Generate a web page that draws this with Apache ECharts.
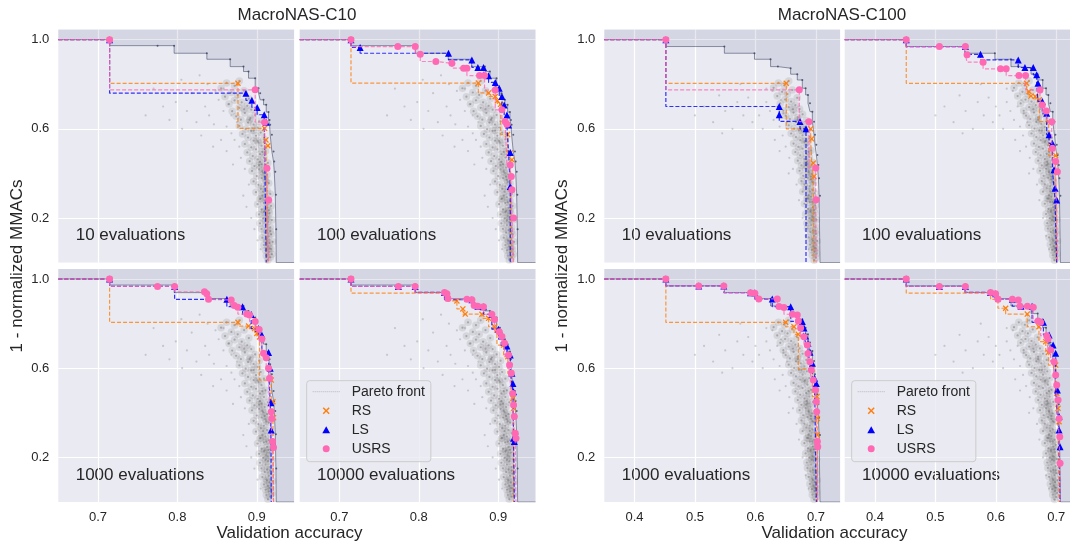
<!DOCTYPE html>
<html>
<head>
<meta charset="utf-8">
<title>MacroNAS Pareto fronts</title>
<script src="https://cdn.jsdelivr.net/npm/echarts@6.0.0/dist/echarts.min.js"></script>
<style>
  html, body { margin: 0; padding: 0; background: #ffffff; }
  #chart { width: 1070px; height: 545px; }
</style>
</head>
<body>
<div id="chart"></div>
<script>
// ---------- axis ranges and tick labels ----------
const c10XRange = [0.65, 0.947];
const c100XRange = [0.35, 0.74];
const yRange = [0, 1.045];
const c10XTicks = [0.7, 0.8, 0.9];
const c100XTicks = [0.4, 0.5, 0.6, 0.7];
const yTicks = [0.2, 0.6, 1.0];
const evalLabels = ['10 evaluations', '100 evaluations', '1000 evaluations', '10000 evaluations'];
const datasetTitles = ['MacroNAS-C10', 'MacroNAS-C100'];

// ---------- true Pareto fronts [accuracy, 1 - normalized MMACs] ----------
const c10Front = [[0.7146,1.000],[0.7750,0.973],[0.7959,0.973],[0.8371,0.939],[0.8665,0.912],[0.8833,0.879],[0.8896,0.857],[0.8980,0.827],[0.9022,0.782],[0.9043,0.760],[0.9085,0.730],[0.9119,0.708],[0.9148,0.675],[0.9161,0.640],[0.9169,0.618],[0.9190,0.573],[0.9211,0.498],[0.9220,0.453],[0.9233,0.408],[0.9241,0.304],[0.9245,0.150]];
const c100Front = [[0.4518,1.000],[0.5486,0.969],[0.5984,0.939],[0.6250,0.912],[0.6371,0.879],[0.6582,0.872],[0.6692,0.845],[0.6775,0.819],[0.6830,0.782],[0.6869,0.752],[0.6902,0.715],[0.6941,0.677],[0.6969,0.632],[0.6985,0.573],[0.7007,0.528],[0.7024,0.483],[0.7041,0.438],[0.7052,0.378],[0.7068,0.300]];

// ---------- all evaluated architectures (flat acc, value pairs) ----------
// crowded band next to the front
const c10Core = [
0.914,0.012, 0.917,0.024, 0.912,0.031, 0.919,0.038, 0.915,0.047,
0.911,0.055, 0.918,0.061, 0.914,0.072, 0.909,0.079, 0.916,0.088, 0.920,0.093,
0.912,0.101, 0.907,0.112, 0.915,0.118, 0.918,0.127, 0.910,0.134, 0.913,0.146, 0.906,0.151,
0.917,0.158, 0.911,0.167, 0.904,0.176, 0.914,0.183, 0.919,0.191, 0.908,0.198, 0.912,0.209,
0.903,0.216, 0.916,0.222, 0.910,0.231, 0.906,0.239, 0.913,0.247, 0.918,0.254, 0.901,0.262,
0.909,0.268, 0.915,0.277, 0.904,0.285, 0.911,0.293, 0.907,0.301, 0.917,0.308, 0.899,0.316,
0.913,0.323, 0.905,0.331, 0.909,0.342, 0.902,0.349, 0.915,0.356, 0.896,0.364, 0.911,0.371,
0.906,0.379, 0.900,0.388, 0.913,0.394, 0.908,0.403, 0.894,0.411, 0.903,0.418, 0.910,0.426,
0.897,0.433, 0.906,0.441, 0.914,0.447, 0.891,0.455, 0.901,0.463, 0.909,0.471, 0.895,0.478,
0.904,0.486, 0.888,0.494, 0.911,0.501, 0.899,0.508, 0.893,0.517, 0.906,0.524, 0.885,0.532,
0.902,0.539, 0.896,0.547, 0.909,0.553, 0.889,0.561, 0.899,0.569, 0.882,0.577, 0.905,0.583,
0.893,0.591, 0.886,0.598, 0.901,0.606, 0.878,0.613, 0.896,0.619, 0.889,0.628, 0.903,0.634,
0.880,0.641, 0.892,0.648, 0.874,0.656, 0.898,0.662, 0.885,0.671, 0.869,0.679, 0.893,0.686,
0.878,0.694, 0.888,0.703, 0.865,0.711, 0.881,0.719, 0.872,0.728, 0.890,0.735, 0.860,0.744,
0.876,0.752, 0.868,0.763, 0.884,0.771, 0.855,0.782, 0.872,0.793, 0.862,0.806, 0.878,0.815,
0.916,0.064, 0.913,0.096, 0.917,0.141, 0.911,0.188, 0.915,0.234, 0.912,0.271, 0.908,0.318, 0.912,0.362, 0.907,0.409, 0.904,0.452,
0.907,0.497, 0.901,0.546, 0.896,0.592, 0.891,0.641, 0.884,0.688, 0.914,0.204, 0.909,0.226, 0.905,0.287, 0.910,0.386, 0.903,0.437
];
// sparse architectures further from the front
const c10Halo = [
0.890,0.35, 0.885,0.42, 0.880,0.47, 0.878,0.52, 0.872,0.55, 0.868,0.58, 0.862,0.61, 0.875,0.63, 0.868,0.66, 0.858,0.68,
0.864,0.71, 0.852,0.73, 0.846,0.62, 0.840,0.66, 0.835,0.70, 0.830,0.57, 0.824,0.63, 0.855,0.55, 0.862,0.50, 0.870,0.44,
0.848,0.77, 0.838,0.80, 0.858,0.78, 0.845,0.52, 0.883,0.30, 0.887,0.25, 0.893,0.20, 0.897,0.15, 0.901,0.10, 0.905,0.06,
0.812,0.68, 0.806,0.60, 0.798,0.72, 0.790,0.64, 0.818,0.76, 0.782,0.70, 0.770,0.78, 0.760,0.66, 0.828,0.84, 0.805,0.82
];
const c100Core = [
0.697,0.011, 0.700,0.022, 0.694,0.033, 0.701,0.041, 0.698,0.049,
0.693,0.057, 0.700,0.064, 0.696,0.073, 0.690,0.081, 0.698,0.089, 0.702,0.097,
0.694,0.104, 0.688,0.113, 0.697,0.121, 0.700,0.129, 0.691,0.137, 0.695,0.144, 0.686,0.153,
0.699,0.161, 0.692,0.168, 0.685,0.177, 0.696,0.186, 0.701,0.192, 0.689,0.199, 0.694,0.207,
0.683,0.218, 0.698,0.224, 0.691,0.233, 0.687,0.241, 0.695,0.249, 0.699,0.256, 0.681,0.264,
0.690,0.271, 0.697,0.279, 0.685,0.287, 0.692,0.296, 0.688,0.302, 0.698,0.311, 0.678,0.318,
0.694,0.326, 0.684,0.333, 0.690,0.343, 0.681,0.351, 0.696,0.358, 0.676,0.366, 0.692,0.373,
0.686,0.381, 0.679,0.389, 0.694,0.397, 0.688,0.404, 0.673,0.412, 0.683,0.421, 0.691,0.428,
0.676,0.436, 0.686,0.443, 0.695,0.449, 0.670,0.457, 0.681,0.465, 0.689,0.473, 0.674,0.481,
0.684,0.488, 0.666,0.496, 0.692,0.503, 0.678,0.511, 0.671,0.519, 0.686,0.526, 0.663,0.534,
0.681,0.541, 0.674,0.549, 0.689,0.556, 0.667,0.563, 0.678,0.571, 0.659,0.579, 0.685,0.586,
0.672,0.593, 0.664,0.601, 0.681,0.608, 0.655,0.616, 0.675,0.622, 0.667,0.631, 0.684,0.637,
0.657,0.644, 0.670,0.651, 0.650,0.659, 0.678,0.665, 0.663,0.673, 0.646,0.681, 0.673,0.689,
0.655,0.697, 0.666,0.706, 0.641,0.714, 0.659,0.722, 0.649,0.731, 0.669,0.739, 0.636,0.747,
0.653,0.756, 0.644,0.766, 0.661,0.774, 0.630,0.784, 0.648,0.795, 0.638,0.806, 0.655,0.815,
0.698,0.066, 0.695,0.098, 0.699,0.142, 0.693,0.189, 0.697,0.236, 0.694,0.272, 0.690,0.319, 0.694,0.363, 0.688,0.409, 0.685,0.452,
0.688,0.497, 0.682,0.546, 0.676,0.592, 0.670,0.641, 0.662,0.688, 0.696,0.204, 0.691,0.226, 0.687,0.287, 0.692,0.386, 0.684,0.437
];
const c100Halo = [
0.668,0.35, 0.662,0.42, 0.656,0.47, 0.650,0.52, 0.645,0.57, 0.640,0.61, 0.652,0.63, 0.646,0.67, 0.636,0.70, 0.642,0.73,
0.630,0.64, 0.624,0.68, 0.618,0.72, 0.612,0.60, 0.606,0.66, 0.632,0.55, 0.640,0.50, 0.655,0.40, 0.672,0.28, 0.678,0.20,
0.683,0.12, 0.688,0.06, 0.628,0.77, 0.618,0.78, 0.600,0.70, 0.595,0.63, 0.588,0.74,
0.580,0.66, 0.570,0.72, 0.562,0.60, 0.550,0.68, 0.540,0.75, 0.530,0.63, 0.515,0.70, 0.500,0.66, 0.575,0.80, 0.545,0.58
];

// ---------- fronts found by each search method ----------
// MacroNAS-C10
const c10Rs10 = [[0.7146,1.0],[0.8763,0.804],[0.9098,0.602],[0.9115,0.550],[0.9140,0.524]];
const c10Ls10 = [[0.7146,1.0],[0.8863,0.760],[0.8938,0.728],[0.9005,0.696],[0.9094,0.663],[0.9119,0.629]];
const c10Us10 = [[0.7146,1.0],[0.8980,0.775],[0.9098,0.630],[0.9128,0.423],[0.9149,0.281]];

const c10Rs100 = [[0.7146,1.0],[0.8750,0.805],[0.8880,0.761],[0.8963,0.745],[0.8990,0.726],[0.9030,0.710],[0.9118,0.575],[0.9152,0.492],[0.9173,0.461]];
const c10Ls100 = [[0.7146,1.0],[0.7261,0.965],[0.8374,0.939],[0.8669,0.909],[0.8744,0.875],[0.8815,0.875],[0.8879,0.838],[0.8963,0.808],[0.9013,0.782],[0.9047,0.745],[0.9076,0.707],[0.9110,0.662],[0.9131,0.617],[0.9152,0.494],[0.9152,0.341]];
const c10Us100 = [[0.7146,1.0],[0.7736,0.969],[0.7955,0.969],[0.8018,0.935],[0.8215,0.902],[0.8417,0.894],[0.8564,0.872],[0.8606,0.872],[0.8765,0.839],[0.8828,0.839],[0.8963,0.774],[0.9047,0.685],[0.9089,0.633],[0.9110,0.620],[0.9152,0.438],[0.9165,0.386],[0.9173,0.327],[0.9194,0.200]];

const c10Rs1000 = [[0.7146,1.0],[0.8763,0.806],[0.8897,0.789],[0.8972,0.778],[0.9001,0.756],[0.9035,0.740],[0.9182,0.547],[0.9203,0.450],[0.9211,0.378]];
const c10Ls1000 = [[0.7146,1.0],[0.7965,0.967],[0.8623,0.909],[0.8821,0.876],[0.8930,0.841],[0.9022,0.778],[0.9064,0.749],[0.9148,0.671],[0.9169,0.600],[0.9178,0.445],[0.9182,0.323]];
const c10Us1000 = [[0.7146,1.0],[0.7750,0.967],[0.7965,0.967],[0.8341,0.943],[0.8370,0.934],[0.8392,0.909],[0.8678,0.906],[0.8716,0.881],[0.8762,0.873],[0.8875,0.843],[0.8909,0.839],[0.8980,0.809],[0.9030,0.774],[0.9064,0.731],[0.9085,0.667],[0.9119,0.647],[0.9148,0.600],[0.9161,0.555],[0.9182,0.405],[0.9190,0.375],[0.9199,0.271],[0.9211,0.244]];

const c10Rs10000 = [[0.7146,1.0],[0.8324,0.937],[0.8366,0.913],[0.8480,0.902],[0.8555,0.866],[0.8585,0.843],[0.8795,0.842],[0.8879,0.824],[0.8954,0.786],[0.8984,0.771],[0.9068,0.704],[0.9122,0.652],[0.9165,0.577],[0.9186,0.465],[0.9194,0.420]];
const c10Ls10000 = [[0.7146,1.0],[0.7743,0.967],[0.7954,0.967],[0.8324,0.940],[0.8669,0.907],[0.8744,0.878],[0.8815,0.876],[0.8920,0.842],[0.9005,0.775],[0.9039,0.745],[0.9110,0.700],[0.9152,0.659],[0.9173,0.577],[0.9186,0.532],[0.9194,0.494],[0.9194,0.286],[0.9203,0.271]];
const c10Us10000 = [[0.7146,1.0],[0.7743,0.967],[0.7954,0.967],[0.8324,0.940],[0.8354,0.934],[0.8366,0.913],[0.8606,0.909],[0.8669,0.907],[0.8698,0.881],[0.8744,0.878],[0.8815,0.876],[0.8920,0.842],[0.8954,0.819],[0.9013,0.764],[0.9047,0.742],[0.9080,0.712],[0.9130,0.659],[0.9143,0.615],[0.9165,0.577],[0.9182,0.487],[0.9194,0.435],[0.9203,0.383],[0.9215,0.308],[0.9224,0.286]];

// MacroNAS-C100
const c100Rs10 = [[0.4518,1.0],[0.6510,0.804],[0.6913,0.600],[0.6930,0.555],[0.6956,0.446],[0.6967,0.386]];
const c100Ls10 = [[0.4518,1.0],[0.6394,0.700],[0.6394,0.663],[0.6737,0.633],[0.6836,0.600]];
const c100Us10 = [[0.4518,1.0],[0.6725,0.775],[0.6885,0.632],[0.6998,0.424],[0.7004,0.282]];

const c100Rs100 = [[0.4518,1.0],[0.6509,0.804],[0.6548,0.767],[0.6581,0.747],[0.6653,0.745],[0.6720,0.730],[0.6874,0.632],[0.6990,0.480],[0.7006,0.408]];
const c100Ls100 = [[0.4518,1.0],[0.5496,0.969],[0.5746,0.934],[0.6370,0.909],[0.6481,0.875],[0.6619,0.875],[0.6675,0.842],[0.6697,0.804],[0.6769,0.722],[0.6841,0.670],[0.6880,0.573],[0.6935,0.535],[0.6963,0.416],[0.6979,0.334],[0.7006,0.281]];
const c100Us100 = [[0.4518,1.0],[0.5066,0.969],[0.5496,0.969],[0.5524,0.932],[0.5789,0.899],[0.6077,0.869],[0.6171,0.869],[0.6382,0.839],[0.6492,0.839],[0.6730,0.774],[0.6769,0.707],[0.6835,0.680],[0.6924,0.632],[0.6935,0.513],[0.6990,0.453],[0.7018,0.408]];

const c100Rs1000 = [[0.4518,1.0],[0.6500,0.806],[0.6637,0.786],[0.6709,0.752],[0.6940,0.597],[0.7018,0.473],[0.7024,0.375],[0.7024,0.301]];
const c100Ls1000 = [[0.4518,1.0],[0.5062,0.969],[0.5477,0.969],[0.5919,0.939],[0.5990,0.939],[0.6278,0.910],[0.6583,0.876],[0.6775,0.810],[0.6803,0.780],[0.6830,0.745],[0.6869,0.712],[0.6902,0.672],[0.6941,0.622],[0.6979,0.555],[0.7007,0.532]];
const c100Us1000 = [[0.4518,1.0],[0.5062,0.969],[0.5477,0.969],[0.5919,0.939],[0.5990,0.936],[0.6056,0.911],[0.6361,0.911],[0.6389,0.877],[0.6472,0.872],[0.6610,0.842],[0.6692,0.839],[0.6709,0.812],[0.6747,0.780],[0.6803,0.741],[0.6858,0.704],[0.6869,0.666],[0.6902,0.629],[0.6924,0.592],[0.6957,0.547],[0.6996,0.502],[0.7007,0.450],[0.7013,0.405],[0.7024,0.271],[0.7030,0.248]];

const c100Rs10000 = [[0.4518,1.0],[0.5913,0.937],[0.6035,0.909],[0.6162,0.869],[0.6520,0.843],[0.6713,0.786],[0.6825,0.719],[0.6869,0.671],[0.6990,0.614],[0.7007,0.488],[0.7029,0.420],[0.7046,0.360]];
const c100Ls10000 = [[0.4518,1.0],[0.5066,0.967],[0.5496,0.967],[0.5913,0.940],[0.5996,0.934],[0.6273,0.909],[0.6416,0.878],[0.6599,0.878],[0.6787,0.806],[0.6881,0.749],[0.6947,0.704],[0.6990,0.667],[0.7018,0.502],[0.7046,0.383],[0.7046,0.323],[0.7062,0.248]];
const c100Us10000 = [[0.4518,1.0],[0.5066,0.967],[0.5496,0.967],[0.5913,0.940],[0.5996,0.934],[0.6035,0.909],[0.6273,0.909],[0.6371,0.906],[0.6400,0.878],[0.6522,0.878],[0.6619,0.873],[0.6697,0.812],[0.6741,0.806],[0.6841,0.746],[0.6863,0.731],[0.6907,0.682],[0.6963,0.629],[0.6990,0.570],[0.7007,0.525],[0.7029,0.458],[0.7046,0.375],[0.7057,0.293],[0.7062,0.174]];

// ---------- styling ----------
const FONT = '"Liberation Sans", Arial, Helvetica, sans-serif';
const TEXT = '#262626';
const PLOT_BG = '#EAEAF2';
const ORANGE = '#FF7F0E';
const BLUE = '#0000FF';
const PINK = '#FF69B4';
const X_MARK = 'path://M0,1.5L1.5,0L5,3.5L8.5,0L10,1.5L6.5,5L10,8.5L8.5,10L5,6.5L1.5,10L0,8.5L3.5,5Z';
const TRI_MARK = 'path://M5,0L10,9L0,9Z';

// panel geometry: four columns (two per dataset), two rows
const COL_LEFT = [58.3, 299.7, 604.3, 844.7];
const ROW_TOP = [29.6, 269];
const PANEL_W = 235.8;
const PANEL_H = 233;

const groups = [
  { xRange: c10XRange, xTicks: c10XTicks, front: c10Front, core: c10Core, halo: c10Halo,
    runs: [[c10Rs10, c10Ls10, c10Us10], [c10Rs100, c10Ls100, c10Us100],
           [c10Rs1000, c10Ls1000, c10Us1000], [c10Rs10000, c10Ls10000, c10Us10000]] },
  { xRange: c100XRange, xTicks: c100XTicks, front: c100Front, core: c100Core, halo: c100Halo,
    runs: [[c100Rs10, c100Ls10, c100Us10], [c100Rs100, c100Ls100, c100Us100],
           [c100Rs1000, c100Ls1000, c100Us1000], [c100Rs10000, c100Ls10000, c100Us10000]] }
];

function pairUp(flat) {
  const out = [];
  for (let i = 0; i < flat.length; i += 2) out.push([flat[i], flat[i + 1]]);
  return out;
}

// staircase that starts at the left border and drops to the bottom after the last point
function runData(points, xMin) {
  const d = [{ value: [xMin, points[0][1]], symbol: 'none' }];
  points.forEach(p => d.push({ value: p }));
  d.push({ value: [points[points.length - 1][0], yRange[0]], symbol: 'none' });
  return d;
}
// front staircase closed towards the lower-right corner, so the area above it is shaded
function frontData(points, xMin, xMax) {
  const d = [{ value: [xMin, points[0][1]], symbol: 'none' }];
  points.forEach(p => d.push({ value: p }));
  d.push({ value: [xMax, yRange[0]], symbol: 'none' });
  return d;
}

const grids = [], xAxes = [], yAxes = [], series = [], graphics = [];

groups.forEach((g, gi) => {
  const corePts = pairUp(g.core);
  const haloPts = pairUp(g.halo);
  for (let k = 0; k < 4; k++) {
    const row = Math.floor(k / 2), col = k % 2;
    const idx = gi * 4 + k;
    const left = COL_LEFT[gi * 2 + col];
    const top = ROW_TOP[row];
    grids.push({
      left: left, top: top, width: PANEL_W, height: PANEL_H,
      show: true, backgroundColor: PLOT_BG, borderWidth: 0,
      containLabel: false, outerBoundsMode: 'none'
    });
    xAxes.push({
      type: 'value', gridIndex: idx, min: g.xRange[0], max: g.xRange[1],
      axisLine: { show: false },
      axisTick: { show: false, customValues: g.xTicks },
      axisLabel: { show: row === 1, customValues: g.xTicks, formatter: v => v.toFixed(1),
                   color: TEXT, fontSize: 13, fontFamily: FONT, margin: 9 },
      splitLine: { show: true, lineStyle: { color: '#ffffff', width: 1.2 } }
    });
    yAxes.push({
      type: 'value', gridIndex: idx, min: yRange[0], max: yRange[1],
      axisLine: { show: false },
      axisTick: { show: false, customValues: yTicks },
      axisLabel: { show: col === 0, customValues: yTicks, formatter: v => v.toFixed(1),
                   color: TEXT, fontSize: 13, fontFamily: FONT, margin: 9 },
      splitLine: { show: true, lineStyle: { color: '#ffffff', width: 1.2 } }
    });

    // every evaluated architecture: the crowded band is drawn as soft overlapping dots
    series.push({
      type: 'scatter', xAxisIndex: idx, yAxisIndex: idx, data: corePts,
      symbol: 'circle', symbolSize: 7.5, silent: true, z: 1,
      itemStyle: { color: 'rgba(120,120,120,0.22)' }
    });
    series.push({
      type: 'scatter', xAxisIndex: idx, yAxisIndex: idx, data: corePts,
      symbol: 'circle', symbolSize: 2.2, silent: true, z: 1,
      itemStyle: { color: 'rgba(95,95,95,0.5)' }
    });
    series.push({
      type: 'scatter', xAxisIndex: idx, yAxisIndex: idx, data: haloPts,
      symbol: 'circle', symbolSize: 2.2, silent: true, z: 1,
      itemStyle: { color: 'rgba(115,115,115,0.38)' }
    });
    // true Pareto front, dominated-out region shaded above it
    series.push({
      type: 'line', name: 'Pareto front', xAxisIndex: idx, yAxisIndex: idx,
      step: 'start', data: frontData(g.front, g.xRange[0], g.xRange[1]),
      symbol: 'circle', symbolSize: 2, showSymbol: true, silent: true, z: 2,
      lineStyle: { color: 'rgba(55,65,95,0.6)', width: 0.9 },
      itemStyle: { color: 'rgba(55,65,95,0.8)' },
      areaStyle: { origin: 'end', color: 'rgba(50,60,110,0.16)' }
    });
    const [rs, ls, us] = g.runs[k];
    const methods = [
      { name: 'RS', pts: rs, color: ORANGE, symbol: X_MARK, size: 6, z: 3 },
      { name: 'LS', pts: ls, color: BLUE, symbol: 'triangle', size: 7, z: 4 },
      { name: 'USRS', pts: us, color: PINK, symbol: 'circle', size: 7, z: 5 }
    ];
    methods.forEach(m => {
      series.push({
        type: 'line', name: m.name, xAxisIndex: idx, yAxisIndex: idx,
        step: 'start', data: runData(m.pts, g.xRange[0]),
        symbol: m.symbol, symbolSize: m.size, showSymbol: true, silent: true, z: m.z,
        lineStyle: { color: m.color, width: 1.2, type: [4, 2], opacity: 0.8 },
        itemStyle: { color: m.color }
      });
    });

    graphics.push({
      type: 'text', x: left + 17.4, y: top + 206,
      style: { text: evalLabels[k], fill: TEXT, font: '17px ' + FONT,
               textAlign: 'left', textVerticalAlign: 'middle' }
    });
  }
});

// dataset titles, axis titles
const groupOffset = 545;
[0, 1].forEach(gi => {
  const dx = gi * groupOffset;
  graphics.push({
    type: 'text', x: 297 + dx, y: 15.5,
    style: { text: datasetTitles[gi], fill: TEXT, font: '17px ' + FONT,
             textAlign: 'center', textVerticalAlign: 'middle' }
  });
  graphics.push({
    type: 'text', x: 289.5 + dx, y: 533,
    style: { text: 'Validation accuracy', fill: TEXT, font: '17px ' + FONT,
             textAlign: 'center', textVerticalAlign: 'middle' }
  });
  graphics.push({
    type: 'text', x: 17 + dx, y: 266, rotation: Math.PI / 2,
    style: { text: '1 - normalized MMACs', fill: TEXT, font: '17px ' + FONT,
             textAlign: 'center', textVerticalAlign: 'middle' }
  });
});

const legends = [306.7, 851.7].map(lx => ({
  left: lx, top: 380.7, orient: 'vertical', selectedMode: false,
  backgroundColor: 'rgba(234,234,242,0.8)', borderColor: '#cccccc', borderWidth: 1, borderRadius: 3,
  padding: [3, 6, 5, 5.5], itemGap: 3, itemWidth: 27, itemHeight: 7,
  textStyle: { fontSize: 14, color: TEXT, fontFamily: FONT, lineHeight: 16, padding: [0, 0, 0, 7] },
  data: [
    { name: 'Pareto front', itemStyle: { opacity: 0 },
      lineStyle: { color: '#b8b8b8', type: 'dotted', width: 1 } },
    { name: 'RS', icon: X_MARK },
    { name: 'LS', icon: TRI_MARK },
    { name: 'USRS', icon: 'circle' }
  ]
}));

const chart = echarts.init(document.getElementById('chart'), null, { renderer: 'canvas' });
chart.setOption({
  backgroundColor: '#ffffff',
  animation: false,
  grid: grids,
  xAxis: xAxes,
  yAxis: yAxes,
  legend: legends,
  series: series,
  graphic: graphics
});
</script>
</body>
</html>
